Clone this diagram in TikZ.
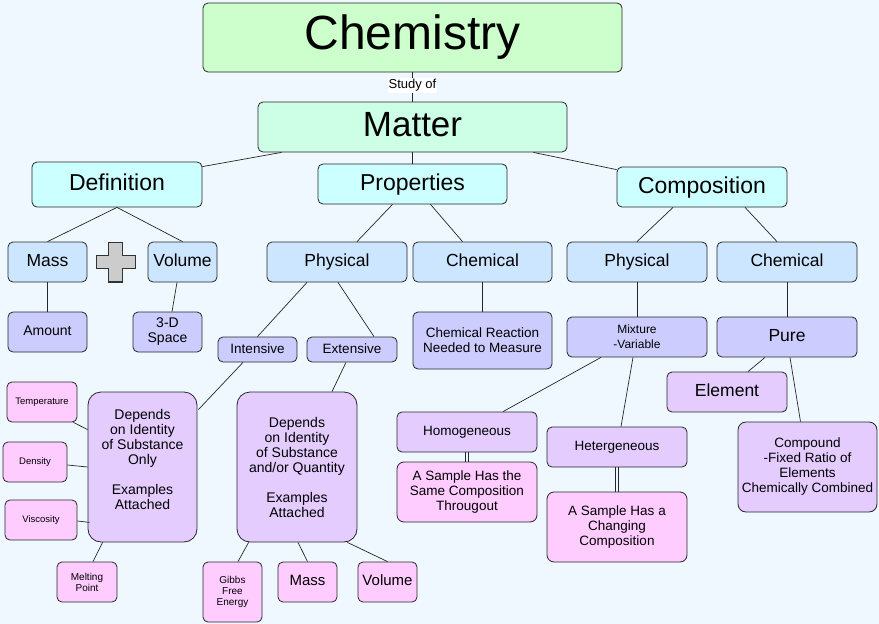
\documentclass[tikz,border=0pt]{standalone}
\usepackage{fontspec}
\setmainfont{Liberation Sans}
\usetikzlibrary{calc}
\definecolor{bgc}{HTML}{F0F8FF}
\definecolor{chemg}{HTML}{CCFFCC}
\definecolor{matg}{HTML}{CCFFE6}
\definecolor{cyanf}{HTML}{CCFFFF}
\definecolor{bluef}{HTML}{CCE6FF}
\definecolor{lavf}{HTML}{CCCCFF}
\definecolor{purf}{HTML}{E4CCFF}
\definecolor{pinkf}{HTML}{FFCCFF}
\definecolor{plusf}{HTML}{CCCCCC}
\definecolor{plusd}{HTML}{333333}
\newcommand{\fsz}[2]{\fontsize{#1}{#2}\selectfont}
\begin{document}
\begin{tikzpicture}[x=1pt,y=-1pt,
  box/.style={draw=black!85, line width=0.8pt, rounded corners=5pt, inner sep=0pt, align=center},
  big/.style={box, rounded corners=13pt},
  edge/.style={draw=black!85, line width=0.7pt},
  f48/.style={font=\fsz{48}{52}},
  f35/.style={font=\fsz{35}{40}, text height=25.2pt, text depth=7pt},
  f23/.style={font=\fsz{23}{26}, text height=16.6pt, text depth=4.6pt},
  f18/.style={font=\fsz{17.5}{20}, text height=12.6pt, text depth=3.5pt},
  f15/.style={font=\fsz{15}{17}, text height=10.8pt, text depth=3pt},
  f14/.style={font=\fsz{14}{15}},
  f14s/.style={font=\fsz{14}{15}, text height=10.1pt, text depth=2.8pt},
  f13/.style={font=\fsz{13.5}{15}},
  f13s/.style={font=\fsz{13.5}{15}, text height=9.7pt, text depth=2.7pt},
  f12/.style={font=\fsz{12}{15}},
  f10/.style={font=\fsz{10}{11}},
  f9/.style={font=\fsz{9.5}{11}, text height=6.8pt, text depth=1.9pt}]
\fill[bgc] (0,0) rectangle (879,624);
\useasboundingbox (0,0) rectangle (879,624);

% top
\node[box, fill=chemg, minimum width=419, minimum height=69, f48] (chem) at (412.5,37.5) {Chemistry};
\node[box, fill=matg, minimum width=309, minimum height=50, f35] (mat) at (412.5,127) {Matter};

\node[box, fill=cyanf, minimum width=170, minimum height=45, f23] (def) at (117,184.5) {Definition};
\node[box, fill=cyanf, minimum width=189, minimum height=40, f23] (prop) at (412.5,184) {Properties};
\node[box, fill=cyanf, minimum width=170, minimum height=40, f23] (comp) at (702,187) {Composition};

% level 3
\node[box, fill=bluef, minimum width=79, minimum height=40, f18] (mass) at (47.5,262) {Mass};
\node[box, fill=bluef, minimum width=69, minimum height=40, f18] (vol) at (182.5,262) {Volume};
\node[box, fill=bluef, minimum width=140, minimum height=40, f18] (physL) at (337,262) {Physical};
\node[box, fill=bluef, minimum width=139, minimum height=40, f18] (chemM) at (482.5,262) {Chemical};
\node[box, fill=bluef, minimum width=140, minimum height=40, f18] (physR) at (637,262) {Physical};
\node[box, fill=bluef, minimum width=140, minimum height=40, f18] (chemR) at (787,262) {Chemical};

% plus sign
\draw[fill=plusf, draw=plusd, line width=1.8pt, line join=miter]
  (108.5,242.5) -- (122.5,242.5) -- (122.5,255.5) -- (135.5,255.5) -- (135.5,268.5)
  -- (122.5,268.5) -- (122.5,282) -- (108.5,282) -- (108.5,268.5) -- (96.5,268.5)
  -- (96.5,255.5) -- (108.5,255.5) -- cycle;

% level 4
\node[box, fill=lavf, minimum width=79, minimum height=40, f14s] (amt) at (47.5,332) {Amount};
\node[box, fill=lavf, minimum width=69, minimum height=40, f14] (tdsp) at (167.5,332) {3-D\\Space};
\node[box, fill=lavf, minimum width=79, minimum height=25, f13s] (int) at (257.5,349.5) {Intensive};
\node[box, fill=lavf, minimum width=90, minimum height=25, f13s] (ext) at (352,349.5) {Extensive};
\node[box, fill=lavf, minimum width=139, minimum height=57, f13] (rx) at (482.5,340.5) {Chemical Reaction\\Needed to Measure};
\node[box, fill=lavf, minimum width=140, minimum height=40, f12] (mix) at (637,337) {Mixture\\-Variable};
\node[box, fill=lavf, minimum width=140, minimum height=40, f18] (pure) at (787,337) {Pure};

% level 5
\node[box, fill=purf, minimum width=120, minimum height=40, f18] (elem) at (727,392) {Element};
\node[box, fill=purf, rounded corners=8pt, minimum width=139, minimum height=90, f13] (cmpd) at (807.5,467) {Compound\\-Fixed Ratio of\\Elements\\Chemically Combined};
\node[box, fill=purf, minimum width=140, minimum height=40, f13s] (hom) at (467,432) {Homogeneous};
\node[box, fill=pinkf, rounded corners=7pt, minimum width=140, minimum height=60, f13] (smp1) at (467,492) {A Sample Has the\\Same Composition\\Througout};
\node[box, fill=purf, minimum width=140, minimum height=40, f13s] (het) at (617,447) {Hetergeneous};
\node[box, fill=pinkf, rounded corners=7pt, minimum width=140, minimum height=70, f13] (smp2) at (617,527) {A Sample Has a\\Changing\\Composition};

\node[big, fill=purf, minimum width=109, minimum height=150, f14] (depL) at (142.5,467) {Depends\\on Identity\\of Substance\\Only\\\mbox{}\\Examples\\Attached\\\mbox{}};
\node[big, fill=purf, minimum width=120, minimum height=150, f14] (depR) at (297,467) {Depends\\on Identity\\of Substance\\and/or Quantity\\\mbox{}\\Examples\\Attached};

% examples
\node[box, fill=pinkf, minimum width=70, minimum height=40, f9] (temp) at (42,402) {Temperature};
\node[box, fill=pinkf, minimum width=64, minimum height=40, f9] (dens) at (35,462) {Density};
\node[box, fill=pinkf, minimum width=72, minimum height=40, f9] (visc) at (41,520) {Viscosity};
\node[box, fill=pinkf, minimum width=60, minimum height=40, f10] (melt) at (87,582) {Melting\\Point};
\node[box, fill=pinkf, minimum width=59, minimum height=60, f10] (gibbs) at (232.5,592) {Gibbs\\Free\\Energy};
\node[box, fill=pinkf, minimum width=59, minimum height=40, f15] (massb) at (307.5,582) {Mass};
\node[box, fill=pinkf, minimum width=59, minimum height=40, f15] (volb) at (387.5,582) {Volume};

% connectors
\draw[edge] (chem.south) -- node[pos=0.45, fill=white, inner sep=1pt, font=\fsz{13}{14}] (studyof) {Study of} (mat.north);
\draw[edge] ($(mat.south west)+(24,0)$) -- ($(def.north east)+(0,5)$);
\draw[edge] (mat.south) -- (prop.north);
\draw[edge] ($(mat.south east)+(-34,0)$) -- ($(comp.north west)+(0,3)$);

\draw[edge] (def.south) -- (mass.north);
\draw[edge] (def.south) -- (vol.north);
\draw[edge] ($(prop.south)+(-20,0)$) -- ($(physL.north)+(20,0)$);
\draw[edge] ($(prop.south)+(18,0)$) -- ($(chemM.north)+(-20,0)$);
\draw[edge] ($(comp.south)+(-29,0)$) -- (physR.north);
\draw[edge] ($(comp.south)+(43,0)$) -- ($(chemR.north)+(-10,0)$);

\draw[edge] (mass.south) -- (amt.north);
\draw[edge] ($(vol.south)+(-5.5,0)$) -- ($(tdsp.north)+(4.5,0)$);
\draw[edge] ($(physL.south)+(-30,0)$) -- (int.north);
\draw[edge] ($(physL.south)+(1,0)$) -- ($(ext.north)+(22,0)$);
\draw[edge] (chemM.south) -- (rx.north);
\draw[edge] (physR.south) -- (mix.north);
\draw[edge] (chemR.south) -- (pure.north);

\draw[edge] ($(int.south)+(-14.5,0)$) -- ($(depL.north east)+(1,18)$);
\draw[edge] ($(ext.south)+(-6,0)$) -- ($(depR.north)+(35,0)$);
\draw[edge] ($(mix.south)+(-36,0)$) -- ($(hom.north)+(36,0)$);
\draw[edge] ($(mix.south)+(-4,0)$) -- ($(het.north)+(4,0)$);
\draw[edge] ($(pure.south)+(-22,0)$) -- ($(elem.north)+(21,0)$);
\draw[edge] ($(pure.south)+(3,0)$) -- ($(cmpd.north)+(-7,0)$);

% double connectors
\draw[edge] ($(hom.south)+(-1.4,0)$) -- ($(smp1.north)+(-1.4,0)$);
\draw[edge] ($(hom.south)+(1.4,0)$) -- ($(smp1.north)+(1.4,0)$);
\draw[edge] ($(het.south)+(-1.4,0)$) -- ($(smp2.north)+(-1.4,0)$);
\draw[edge] ($(het.south)+(1.4,0)$) -- ($(smp2.north)+(1.4,0)$);

\draw[edge] ($(temp.south east)+(-4,0)$) -- ($(depL.north west)+(0,38)$);
\draw[edge] ($(dens.east)+(0,3)$) -- (depL.west);
\draw[edge] ($(visc.east)+(0,1)$) -- ($(depL.south west)+(2,-20)$);
\draw[edge] ($(melt.north)+(6,0)$) -- ($(depL.south west)+(15,0)$);

\draw[edge] ($(depR.south west)+(12,0)$) -- ($(gibbs.north)+(5.5,0)$);
\draw[edge] ($(depR.south)+(1,0)$) -- (massb.north);
\draw[edge] ($(depR.south east)+(-10,0)$) -- (volb.north);
\end{tikzpicture}
\end{document}
